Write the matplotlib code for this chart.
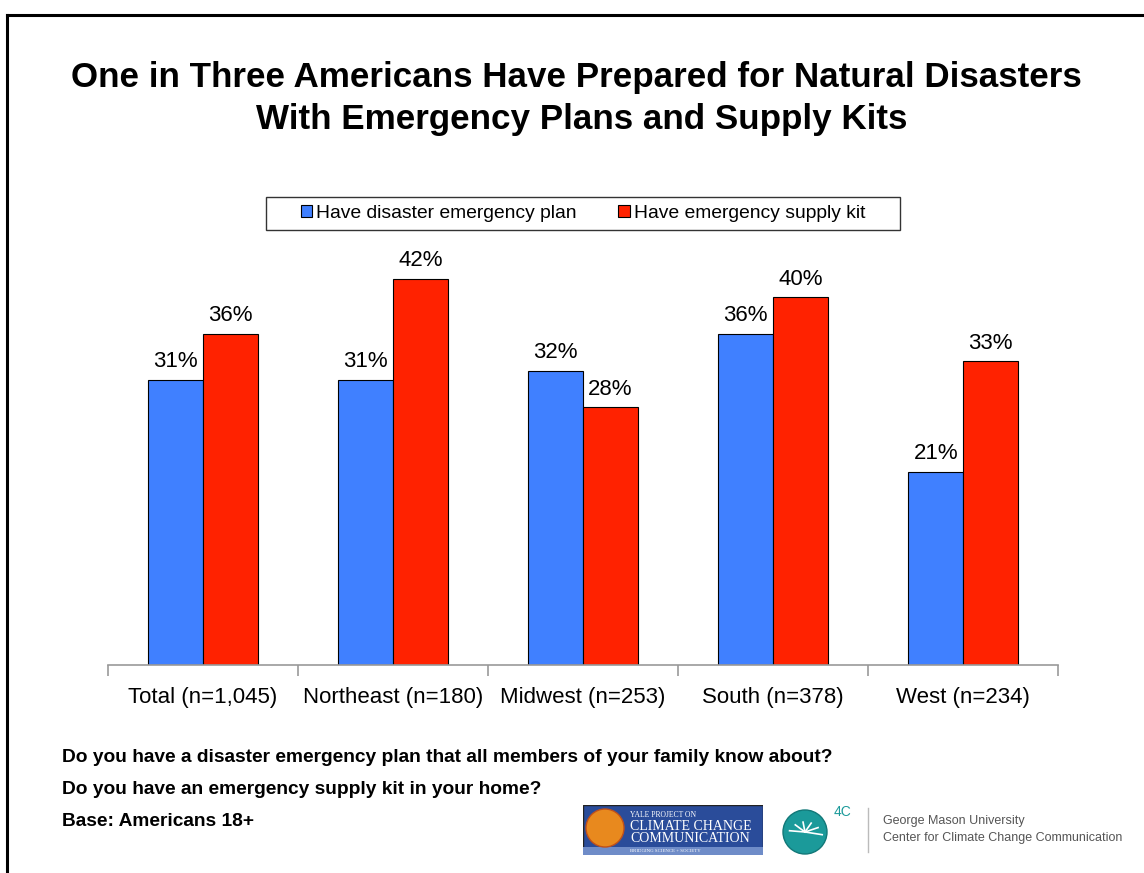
# Disaster preparedness by region - grouped bar chart

import matplotlib.pyplot as plt
from matplotlib.patches import Rectangle, Circle
from matplotlib.lines import Line2D
import numpy as np

plt.rcParams['font.family'] = ['Liberation Sans', 'DejaVu Sans']

# Data
categories = ['Total (n=1,045)', 'Northeast (n=180)', 'Midwest (n=253)',
              'South (n=378)', 'West (n=234)']
plan = [31, 31, 32, 36, 21]
kit = [36, 42, 28, 40, 33]
series_names = ['Have disaster emergency plan', 'Have emergency supply kit']

colors = ['#4080FF', '#FF2200']

W, H = 1144, 873
fig = plt.figure(figsize=(W / 100, H / 100), dpi=100)

# page frame (top and left edges only visible)
fig.add_artist(Line2D([7 / W, 7 / W], [0, 1 - 15 / H], color='black', lw=2.2))
fig.add_artist(Line2D([7 / W, 1], [1 - 15 / H, 1 - 15 / H], color='black', lw=2.2))

# Title
fig.text(576 / W, 1 - 77 / H,
         'One in Three Americans Have Prepared for Natural Disasters',
         ha='center', va='center', fontsize=25.2, fontweight='bold')
fig.text(582 / W, 1 - 119 / H, 'With Emergency Plans and Supply Kits',
         ha='center', va='center', fontsize=25.2, fontweight='bold')

# Axes
ax = fig.add_axes([108 / W, 1 - 665 / H, 950 / W, 460 / H])
x = np.arange(len(categories))
width = 0.287

b1 = ax.bar(x - width / 2, plan, width, color=colors[0], edgecolor='black',
            linewidth=0.8, label=series_names[0])
b2 = ax.bar(x + width / 2, kit, width, color=colors[1], edgecolor='black',
            linewidth=0.8, label=series_names[1])

for bars in (b1, b2):
    for rect in bars:
        h = rect.get_height()
        ax.text(rect.get_x() + rect.get_width() / 2, h + 0.8, f'{h:.0f}%',
                ha='center', va='bottom', fontsize=16)

ax.set_xlim(-0.5, len(categories) - 0.5)
ax.set_ylim(0, 50)
ax.set_yticks([])
for s in ['top', 'right', 'left']:
    ax.spines[s].set_visible(False)
ax.spines['bottom'].set_color('#999999')
ax.spines['bottom'].set_linewidth(1.2)

ax.set_xticks(np.arange(-0.5, len(categories)), minor=False)
ax.set_xticklabels([])
ax.tick_params(axis='x', which='major', length=8, color='#999999', width=1.2)
ax.set_xticks(x, minor=True)
ax.set_xticklabels(categories, minor=True, fontsize=16)
ax.tick_params(axis='x', which='minor', length=0, pad=16)

# Legend (frame drawn separately to get the wide padding)
fig.add_artist(Rectangle((266 / W, 1 - 230 / H), 634 / W, 33 / H,
                         transform=fig.transFigure, facecolor='white',
                         edgecolor='#333333', lw=1.0, zorder=2))
leg = ax.legend(loc='center', bbox_to_anchor=(0.5, 1 - 8 / 460),
                ncol=2, fontsize=13.9, frameon=False,
                handlelength=0.6, handleheight=0.6, handletextpad=0.2,
                columnspacing=2.15, borderpad=0.5)
leg.set_zorder(3)
ax.set_zorder(3)
ax.patch.set_visible(False)

# Footer questions
footer = ['Do you have a disaster emergency plan that all members of your family know about?',
          'Do you have an emergency supply kit in your home?',
          'Base: Americans 18+']
for i, line in enumerate(footer):
    fig.text(62 / W, 1 - (758 + 32 * i) / H, line, ha='left', va='center',
             fontsize=13.8, fontweight='bold')

# Logos (approximations)
logo = fig.add_axes([583 / W, 1 - 855 / H, 180 / W, 50 / H])
logo.set_xlim(0, 180)
logo.set_ylim(0, 50)
logo.axis('off')
logo.add_patch(Rectangle((0, 0), 180, 50, facecolor='#2A4C9A', edgecolor='#222222', lw=1))
logo.add_patch(Rectangle((0, 0), 180, 8, facecolor='#6F8CC8', edgecolor='none'))
logo.add_patch(Circle((22, 27), 19, facecolor='#E8891E', edgecolor='#C0501A', lw=1))
logo.text(47, 40, 'YALE PROJECT ON', color='white', fontsize=5.5, family='Liberation Serif', va='center')
logo.text(47, 29, 'CLIMATE CHANGE', color='white', fontsize=10, family='Liberation Serif', va='center')
logo.text(47, 17, 'COMMUNICATION', color='white', fontsize=10, family='Liberation Serif', va='center')
logo.text(47, 4, 'BRIDGING SCIENCE + SOCIETY', color='white', fontsize=3.5, family='Liberation Serif', va='center')

c4 = fig.add_axes([780 / W, 1 - 855 / H, 60 / W, 52 / H])
c4.set_xlim(0, 60)
c4.set_ylim(0, 52)
c4.set_aspect('equal')
c4.axis('off')
c4.add_patch(Circle((25, 23), 22, facecolor='#1B9A9A', edgecolor='#127878', lw=1))
for ang in np.linspace(0.3, 2.6, 6):
    c4.plot([25, 25 + 18 * np.cos(ang)], [23, 23 + 18 * np.sin(ang) - 8],
            color='white', lw=1.2)
fig.text(842 / W, 1 - 812 / H, '4C', color='#1B9A9A', fontsize=10, ha='center', va='center')

fig.add_artist(Line2D([868 / W, 868 / W], [1 - 852 / H, 1 - 808 / H], color='#BBBBBB', lw=1))
fig.text(883 / W, 1 - 821 / H, 'George Mason University', color='#555555',
         fontsize=9, ha='left', va='center')
fig.text(883 / W, 1 - 838 / H, 'Center for Climate Change Communication', color='#555555',
         fontsize=9, ha='left', va='center')

plt.savefig('out.png', dpi=100)
